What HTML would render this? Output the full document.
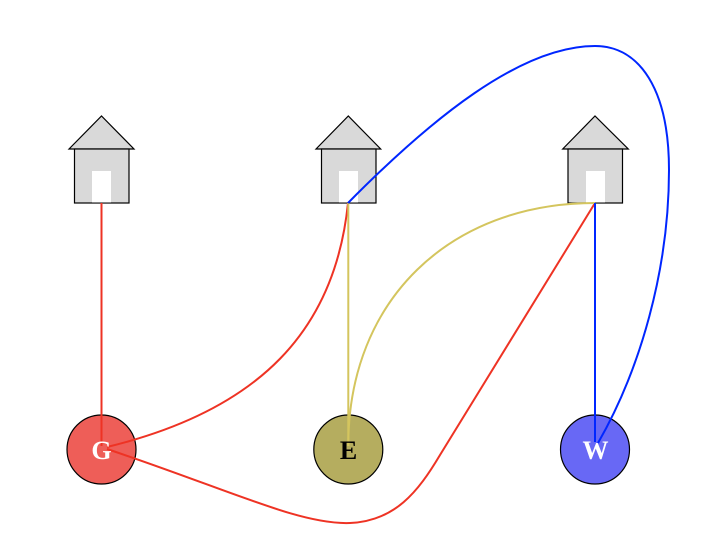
<!DOCTYPE html>
<html><head><meta charset="utf-8"><style>
html,body{margin:0;padding:0;background:#fff;}
svg{display:block;}
</style></head><body>
<svg width="706" height="550" viewBox="0 0 706 550" xmlns="http://www.w3.org/2000/svg">
<g stroke="#000" stroke-width="1.2" fill="#d9d9d9">
<polygon points="69,149 101.5,116 134,149"/>
<rect x="74.5" y="149" width="54.5" height="54"/>
<polygon points="316,149 348.3,116 380.7,149"/>
<rect x="321.5" y="149" width="54.5" height="54"/>
<polygon points="562.7,149 595,116 628.3,149"/>
<rect x="568" y="149" width="54.5" height="54"/>
</g>
<g fill="#fff">
<rect x="92" y="171" width="19" height="31.5"/>
<rect x="339" y="171" width="19" height="31.5"/>
<rect x="586" y="171" width="19" height="31.5"/>
</g>
<g stroke="#000" stroke-width="1.2">
<circle cx="101.5" cy="449.5" r="34.5" fill="#ee5e58"/>
<circle cx="348.3" cy="449.5" r="34.5" fill="#b5ad5f"/>
<circle cx="595" cy="449.5" r="34.5" fill="#6868f5"/>
</g>
<g fill="none" stroke-width="2">
<path d="M101.5,203 L101.5,446" stroke="#ee3324"/>
<path d="M348,203 C335,330 260,410 107,447" stroke="#ee3324"/>
<path d="M107,449 C230,490 300,525 350,523 C395,521 418,492 440,455 L595,203" stroke="#ee3324"/>
<path d="M348.3,203 L348.3,446" stroke="#d4c55e"/>
<path d="M595,203 C450,203 348,300 348.3,446" stroke="#d4c55e"/>
<path d="M595,203 L595,442" stroke="#0026ff"/>
<path d="M348,203 C430,120 520,46 595,46 C640,46 669,90 669,170 C669,270 640,370 598,443" stroke="#0026ff"/>
</g>
<g font-family="Liberation Serif, serif" font-weight="bold" font-size="26" text-anchor="middle">
<text x="101.5" y="459" fill="#fff">G</text>
<text x="348.5" y="459" fill="#000">E</text>
<text x="595.5" y="459" fill="#fff">W</text>
</g>
</svg>
</body></html>
